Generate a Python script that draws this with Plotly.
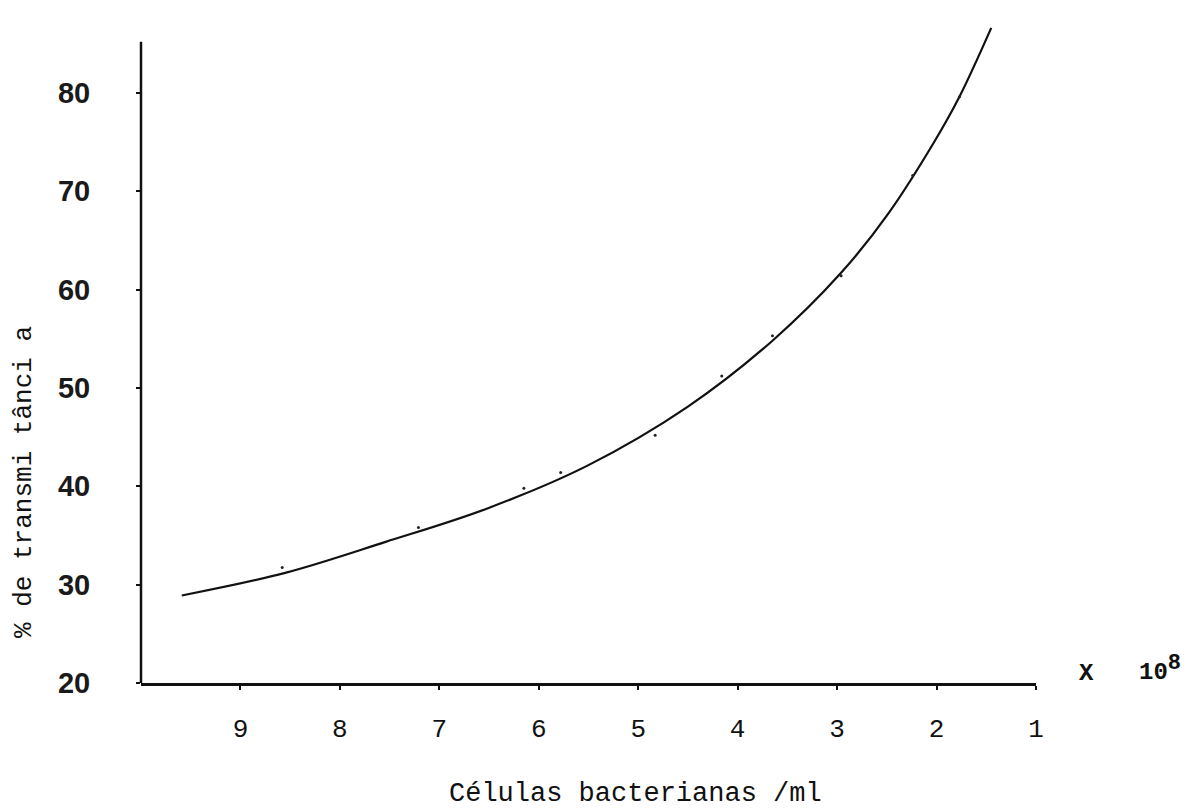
import plotly.graph_objects as go

# Células bacterianas /ml (x 10^8) vs % de transmitância
curve_x = [9.59, 8.55, 7.54, 6.53, 5.51, 4.50, 3.65, 2.96, 2.48, 2.03, 1.77, 1.45]
curve_y = [28.9, 31.2, 34.35, 37.7, 42.1, 48.1, 54.8, 61.7, 67.8, 74.9, 79.6, 86.6]

# small measurement dots drawn along the curve
pts_x = [8.58, 7.21, 6.15, 5.78, 4.83, 4.16, 3.65, 2.96, 2.24, 1.77]
pts_y = [31.75, 35.8, 39.8, 41.4, 45.2, 51.2, 55.3, 61.4, 71.6, 79.6]

x_ticks = [9, 8, 7, 6, 5, 4, 3, 2, 1]
y_ticks = [20, 30, 40, 50, 60, 70, 80]
y_axis_top = 85.2

# page geometry (the html body adds an 8px offset)
OFF = 8
PL, PW, PT, PH = 141, 895, 24, 659


def px(p):
    return (p - PL) / PW


def py(p):
    return (PT + PH - p) / PH


fig = go.Figure()
fig.add_trace(go.Scatter(x=curve_x, y=curve_y, mode="lines",
                         line=dict(color="#111111", width=2.2, shape="spline", smoothing=1.0),
                         showlegend=False, hoverinfo="skip"))
fig.add_trace(go.Scatter(x=pts_x, y=pts_y, mode="markers",
                         marker=dict(color="#222222", size=3),
                         showlegend=False, hoverinfo="skip"))

mono = "Liberation Mono, DejaVu Sans Mono, monospace"

fig.update_layout(
    width=1191 - OFF, height=812 - OFF,
    margin=dict(l=PL - OFF, r=1191 - PL - PW, t=PT - OFF, b=812 - PT - PH),
    paper_bgcolor="white", plot_bgcolor="white",
    showlegend=False,
    xaxis=dict(range=[10, 1], tickvals=x_ticks, ticktext=[str(v) for v in x_ticks],
               showgrid=False, zeroline=False, showline=True, linecolor="#111111", linewidth=2.5,
               ticks="outside", ticklen=4, tickwidth=2, tickcolor="#111111",
               ticklabelstandoff=16,
               tickfont=dict(family=mono, size=26, color="#111111")),
    yaxis=dict(range=[20, 87], tickvals=y_ticks, ticktext=[str(v) for v in y_ticks],
               showgrid=False, zeroline=False, showline=False,
               ticks="outside", ticklen=4, tickwidth=2, tickcolor="#111111",
               ticklabelstandoff=40,
               tickfont=dict(family="Liberation Sans Narrow, Liberation Sans, Arial", size=29,
                             color="#1a1a1a", weight="bold")),
    shapes=[dict(type="line", xref="paper", yref="y", x0=0, x1=0, y0=20, y1=y_axis_top,
                 line=dict(color="#111111", width=2.5))],
    annotations=[
        dict(text="Células bacterianas /ml", xref="paper", yref="paper",
             x=px(635), y=py(794), xanchor="center", yanchor="middle",
             showarrow=False, font=dict(family=mono, size=27, color="#111111")),
        dict(text="% de transmi tânci a", xref="paper", yref="paper",
             x=px(24), y=py(482), xanchor="center", yanchor="middle",
             textangle=-90, showarrow=False,
             font=dict(family=mono, size=26, color="#111111")),
        dict(text="X", xref="paper", yref="paper",
             x=px(1086), y=py(673), xanchor="center", yanchor="middle",
             showarrow=False, font=dict(family=mono, size=24, color="#111111", weight="bold")),
        dict(text='10<sup><span style="font-size:22px">8</span></sup>', xref="paper", yref="paper",
             x=px(1137), y=py(668), xanchor="left", yanchor="middle",
             showarrow=False, font=dict(family=mono, size=24, color="#111111", weight="bold")),
    ],
)

fig.write_html("out.html")
